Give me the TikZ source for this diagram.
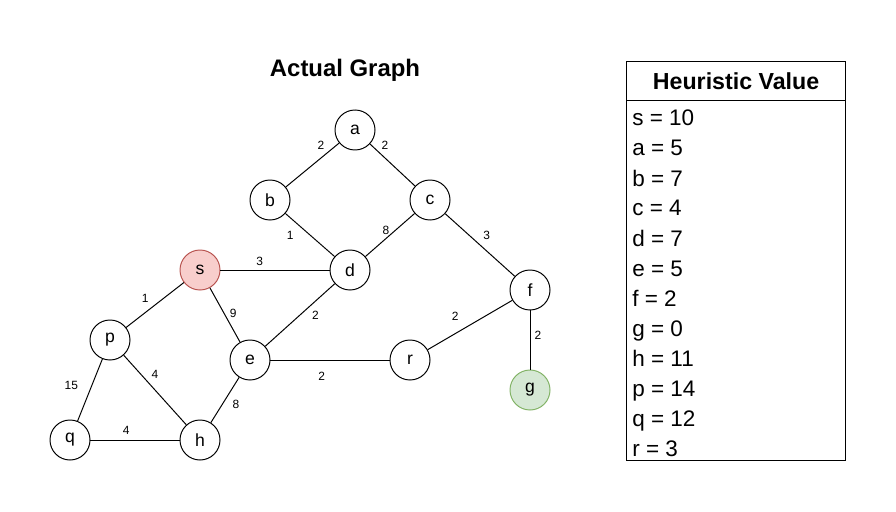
\documentclass[tikz,border=0pt]{standalone}
\usepackage{fontspec}
\setmainfont{Liberation Sans}
\usepackage{tikz}
\usetikzlibrary{positioning}

\definecolor{startfill}{HTML}{F8CECC}
\definecolor{startline}{HTML}{B85450}
\definecolor{goalfill}{HTML}{D5E8D4}
\definecolor{goalline}{HTML}{82B366}

\begin{document}
\begin{tikzpicture}[x=0.025cm, y=-0.025cm]
% Setup the styles for the vertices and the labels
\tikzset{vertex style/.style={circle,
		minimum size=1cm,
		inner sep=0pt,
		line width=0.7pt,
		draw=black,
		fill=white,
		font=\fontsize{12.5}{14}\selectfont},
	start style/.style={vertex style, draw=startline, fill=startfill},
	goal style/.style={vertex style, draw=goalline, fill=goalfill},
	weight/.style={inner sep=0pt, font=\fontsize{8.5}{10}\selectfont},
	hval/.style={anchor=base west, inner sep=0pt, font=\fontsize{16}{18}\selectfont}}
\useasboundingbox (0,0) rectangle (896,512);

% Title
\node[font=\bfseries\fontsize{17}{19}\selectfont] at (345,70) (title) {Actual Graph};

% Draw the vertices
\node[vertex style] at (355,130) (a) {a};
\node[vertex style] at (270,200) (b) {b};
\node[vertex style] at (430,200) (c) {c};
\node[start style]  at (200,270) (s) {s};
\node[vertex style] at (350,270) (d) {d};
\node[vertex style] at (530,290) (f) {f};
\node[vertex style] at (110,340) (p) {p};
\node[vertex style] at (250,360) (e) {e};
\node[vertex style] at (410,360) (r) {r};
\node[goal style]   at (530,390) (g) {g};
\node[vertex style] at (70,440)  (q) {q};
\node[vertex style] at (200,440) (h) {h};

% Connect the vertices with weighted edges
\draw[line width=0.7pt, draw=black]
(a) edge node[weight, pos=0.23, shift={(-6,-8)}]   {2}  (b)
(a) edge node[weight, pos=0.19, shift={(6.5,-7)}]  {2}  (c)
(b) edge node[weight, pos=0.28, shift={(-9,10)}]   {1}  (d)
(c) edge node[weight, pos=0.50, shift={(-4,-5)}]   {8}  (d)
(c) edge node[weight, pos=0.48, shift={(8,-8.5)}]  {3}  (f)
(s) edge node[weight, pos=0.36, shift={(0,-9)}]    {3}  (d)
(s) edge node[weight, pos=0.55, shift={(-7,-9)}]   {1}  (p)
(s) edge node[weight, pos=0.51, shift={(8,-2)}]    {9}  (e)
(d) edge node[weight, pos=0.38, shift={(7,7.5)}]   {2}  (e)
(f) edge node[weight, pos=0.58, shift={(-8,-13)}]  {2}  (r)
(f) edge node[weight, pos=0.42, shift={(8,0)}]     {2}  (g)
(e) edge node[weight, pos=0.43, shift={(0,16)}]    {2}  (r)
(p) edge node[weight, pos=0.53, shift={(-18,-6)}]  {15} (q)
(p) edge node[weight, pos=0.38, shift={(7.5,-7)}]  {4}  (h)
(e) edge node[weight, pos=0.47, shift={(10,6)}]    {8}  (h)
(q) edge node[weight, pos=0.40, shift={(0,-10)}]   {4}  (h);

% Heuristic table
\node[draw, line width=0.8pt, anchor=north west, minimum width=5.475cm, minimum height=9cm] at (626,100) (hbody) {};
\node[draw, line width=0.8pt, anchor=north west, minimum width=5.475cm, minimum height=0.975cm,
	font=\bfseries\fontsize{16.5}{18}\selectfont] at (626,61) (hhead) {Heuristic Value};
\foreach \hv [count=\i] in {s = 10, a = 5, b = 7, c = 4, d = 7, e = 5, f = 2, g = 0, h = 11, p = 14, q = 12, r = 3}
	\node[hval] at (632,96+30*\i) (h\i) {\hv};
\end{tikzpicture}
\end{document}
